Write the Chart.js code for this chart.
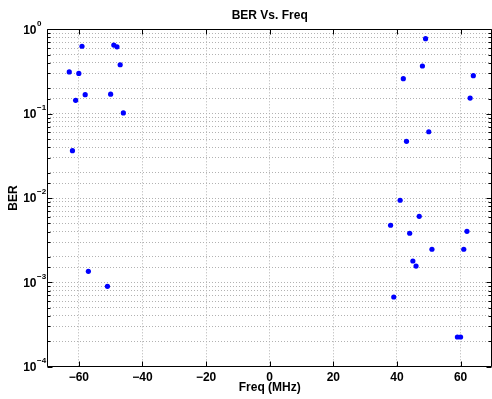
<!DOCTYPE html>
<html>
<head>
<meta charset="utf-8">
<script src="https://cdn.jsdelivr.net/npm/chart.js@4/dist/chart.umd.min.js"></script>
<style>
  html, body { margin: 0; padding: 0; background: #fff; overflow: hidden; }
  #wrap { position: relative; width: 495px; height: 399px; }
</style>
</head>
<body>
<div id="wrap"><canvas id="c"></canvas></div>
<script>
// Measured frequency offsets (MHz) and bit error rate at each one
const freqMHz = [-63, -60, -59, -61, -58, -62, -49, -48, -47, -50, -46, -57, -51,
                 49, 48, 42, 64, 63, 50, 43, 41, 47, 38, 44, 62, 51, 61, 45, 46, 39, 59, 60];
const ber = [0.312, 0.30, 0.63, 0.144, 0.168, 0.0364, 0.65, 0.62, 0.38, 0.17, 0.102, 0.00135, 0.000898,
             0.774, 0.367, 0.26, 0.282, 0.153, 0.061, 0.047, 0.0094, 0.00607, 0.00475, 0.00382, 0.00403,
             0.00247, 0.00247, 0.00179, 0.00156, 0.00067, 0.000225, 0.000225];

const xTicks = [-60, -40, -20, 0, 20, 40, 60];
const yDecades = [0, -1, -2, -3, -4];

const titleText = 'BER Vs. Freq';
const xTitle = 'Freq (MHz)';
const yTitle = 'BER';

const FONT = '"Liberation Sans", Arial, Helvetica, sans-serif';
const GRID = '#b2b2b2';

function fmtMinus(v) { return v < 0 ? '\u2212' + Math.abs(v) : String(v); }

// Axis box, inward tick marks, decade labels and titles
const axesDecor = {
  id: 'axesDecor',
  afterDatasetsDraw(chart) {
    const ctx = chart.ctx;
    const a = chart.chartArea;
    const xs = chart.scales.x, ys = chart.scales.y;
    const L = Math.round(a.left) + 0.5, R = Math.round(a.right) - 0.5;
    const T = Math.round(a.top) + 0.5, B = Math.round(a.bottom) - 0.5;
    ctx.save();
    ctx.strokeStyle = '#000';
    ctx.lineWidth = 1;
    ctx.setLineDash([]);
    ctx.beginPath();
    ctx.moveTo(L, T); ctx.lineTo(R, T); ctx.lineTo(R, B); ctx.lineTo(L, B); ctx.closePath();
    // x major ticks, bottom and top, pointing inward
    xTicks.forEach(v => {
      const px = Math.round(xs.getPixelForValue(v)) + 0.5;
      ctx.moveTo(px, B); ctx.lineTo(px, B - 5);
      ctx.moveTo(px, T); ctx.lineTo(px, T + 5);
    });
    // y ticks: decades long, intermediate short
    ys.ticks.forEach(t => {
      const v = t.value;
      const e = Math.log10(v);
      const major = Math.abs(e - Math.round(e)) < 1e-9;
      const len = major ? 5 : 3;
      const py = Math.round(ys.getPixelForValue(v)) + 0.5;
      ctx.moveTo(L, py); ctx.lineTo(L + len, py);
      ctx.moveTo(R, py); ctx.lineTo(R - len, py);
    });
    ctx.stroke();

    ctx.fillStyle = '#000';
    // decade labels as 10 with raised exponent
    yDecades.forEach(d => {
      const py = ys.getPixelForValue(Math.pow(10, d));
      ctx.font = 'bold 12px ' + FONT;
      ctx.textAlign = 'right';
      ctx.textBaseline = 'middle';
      ctx.fillText('10', 36.5, py + 1);
      ctx.font = 'bold 8px ' + FONT;
      ctx.textAlign = 'left';
      ctx.fillText(fmtMinus(d), 37, py - 6);
    });

    // title and axis titles
    const cx = (a.left + a.right) / 2;
    ctx.font = 'bold 12px ' + FONT;
    ctx.textAlign = 'center';
    ctx.textBaseline = 'middle';
    ctx.fillText(titleText, cx, 16);
    ctx.fillText(xTitle, cx, 388);
    ctx.translate(14, (a.top + a.bottom) / 2);
    ctx.rotate(-Math.PI / 2);
    ctx.fillText(yTitle, 0, 0);
    ctx.restore();
  }
};

const points = freqMHz.map((f, i) => ({ x: f, y: ber[i] }));

new Chart(document.getElementById('c'), {
  type: 'scatter',
  data: {
    datasets: [{
      data: points,
      backgroundColor: '#0000ff',
      borderColor: '#0000ff',
      borderWidth: 0,
      pointRadius: 2.6,
      pointHoverRadius: 2.6
    }]
  },
  options: {
    responsive: true,
    maintainAspectRatio: false,
    animation: false,
    layout: { padding: { top: 29.3, right: 0.8, left: 0, bottom: 0 } },
    plugins: {
      legend: { display: false },
      title: { display: false },
      tooltip: { enabled: false }
    },
    scales: {
      x: {
        type: 'linear',
        min: -70,
        max: 70,
        afterBuildTicks(scale) { scale.ticks = xTicks.map(v => ({ value: v })); },
        afterFit(scale) { scale.height = 32.3; },
        ticks: {
          autoSkip: false,
          maxRotation: 0,
          padding: 4,
          color: '#000',
          font: { family: FONT, size: 12, weight: 'bold' },
          callback: v => fmtMinus(v)
        },
        grid: { color: GRID, lineWidth: 1, drawTicks: false, tickLength: 0 },
        border: { display: false, dash: [1, 2] }
      },
      y: {
        type: 'logarithmic',
        min: 1e-4,
        max: 1,
        afterFit(scale) { scale.width = 47; },
        ticks: {
          autoSkip: false,
          callback: () => ''
        },
        grid: { color: GRID, lineWidth: 1, drawTicks: false, tickLength: 0 },
        border: { display: false, dash: [1, 2] }
      }
    }
  },
  plugins: [axesDecor]
});
</script>
</body>
</html>
